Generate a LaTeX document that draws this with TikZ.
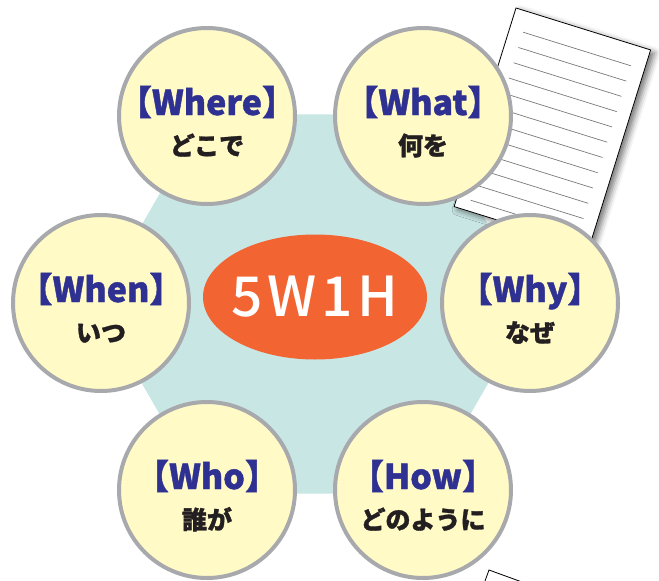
\documentclass[tikz,border=0pt]{standalone}
\usepackage{fontspec}
\setmainfont{Noto Sans CJK JP}
\newfontfamily\hubfont{Noto Sans CJK JP Medium}[LetterSpace=9]
\newfontfamily\heavyfont{Noto Sans CJK JP Black}[FakeBold=1.2]
\usetikzlibrary{shapes.geometric,shadows.blur}

\definecolor{hexfill}{HTML}{C8E6E4}
\definecolor{ballfill}{HTML}{FFFAC6}
\definecolor{ballline}{HTML}{A7A9AC}
\definecolor{titleblue}{HTML}{2E3192}
\definecolor{subblack}{HTML}{231F20}
\definecolor{hubfill}{HTML}{F26532}
\definecolor{ruleline}{HTML}{7A7A7A}

\tikzset{
    ball/.style={circle, draw=ballline, fill=ballfill, line width=4pt,
                 minimum size=176pt, inner sep=0pt},
    wtitle/.style={anchor=base, inner sep=0pt, text=titleblue,
                   font=\fontsize{34}{34}\heavyfont\addfontfeature{RawFeature=+halt}},
    wsub/.style={anchor=base, inner sep=0pt, text=subblack,
                 font=\fontsize{25}{25}\heavyfont},
    hub/.style={ellipse, fill=hubfill, minimum width=224pt, minimum height=125pt,
                inner xsep=-8pt, text=white, font=\fontsize{55}{55}\hubfont},
    sheet/.style={fill=white, draw=black, line width=0.8pt},
    sheet rule/.style={draw=ruleline, line width=0.7pt},
}

\begin{document}
\begin{tikzpicture}[x=1pt, y=-1pt]
    \useasboundingbox (0,0) rectangle (659,581);
    \clip (0,0) rectangle (659,581);

    % backdrop hexagon
    \node[regular polygon, regular polygon sides=6, fill=hexfill,
          minimum size=438pt, inner sep=0pt, outer sep=0pt] (hexa) at (315,304) {};

    % sheets of paper
    \begin{scope}[shift={(489,570)}, rotate=-20]
        \draw[sheet] (0,0) rectangle (150,200);
    \end{scope}
    \begin{scope}[shift={(516,8)}, rotate=-17.3]
        \draw[sheet, blur shadow={shadow xshift=4pt, shadow yshift=-3pt,
              shadow blur radius=6pt, shadow opacity=55}] (0,0) rectangle (141,208);
        \foreach \k in {0,...,11}
            \draw[sheet rule] (14,21+\k*16) -- (127,21+\k*16);
    \end{scope}

    % the six questions
    \foreach \n/\x/\y/\t/\s in {where/207/116/Where/どこで, what/423/116/What/何を,
                                when/101/303/When/いつ, why/530/303/Why/なぜ,
                                who/207/490/Who/誰が, how/423/490/How/どのように} {
        \node[ball] (\n) at (\x,\y) {};
        \node[wtitle] (\n title) at ([yshift=1pt]\n.center) {【\t】};
        \node[wsub] (\n sub) at ([yshift=-39pt]\n.center) {\s};
    }

    \node[hub] (core) at (315,297) {5W1H};
\end{tikzpicture}
\end{document}
